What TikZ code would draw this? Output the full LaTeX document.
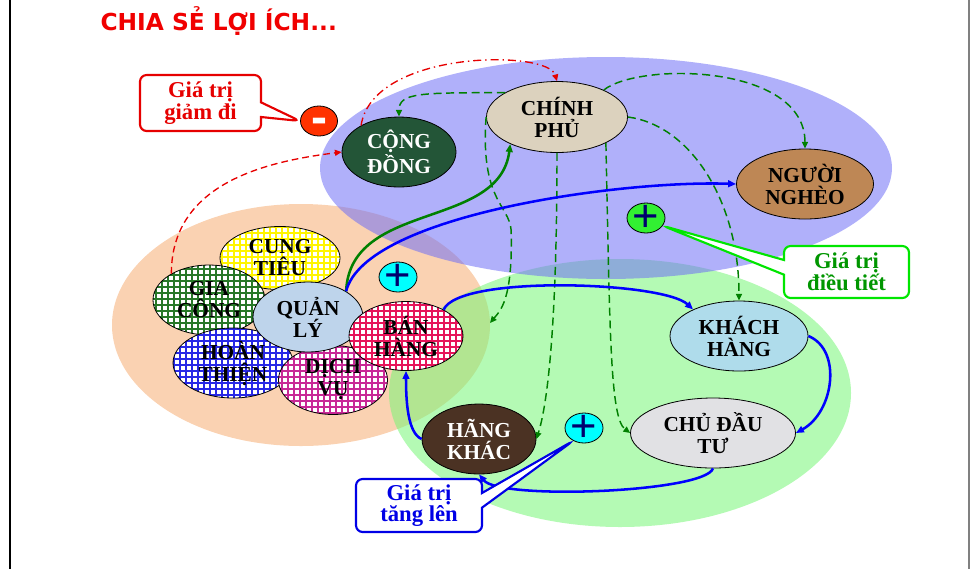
\documentclass[tikz,border=0pt]{standalone}
\usepackage{fontspec}
\setmainfont{Liberation Serif}
\newfontfamily\titlefont{DejaVu Sans}
\newfontfamily\signfont{Liberation Sans}
\usetikzlibrary{shapes.geometric,shapes.callouts,arrows.meta,patterns.meta}

\definecolor{titlered}{RGB}{240,0,0}
\definecolor{peach}{RGB}{250,210,178}
\definecolor{lilac}{RGB}{111,111,246}
\definecolor{mint}{RGB}{119,246,119}
\definecolor{gdark}{RGB}{0,128,0}
\definecolor{bline}{RGB}{0,0,255}
\definecolor{signblue}{RGB}{0,0,110}
\definecolor{noteRed}{RGB}{230,0,0}
\definecolor{noteGreen}{RGB}{0,230,0}
\definecolor{noteGreenTxt}{RGB}{0,150,0}
\definecolor{noteBlue}{RGB}{0,0,230}
% fills of the actors
\definecolor{fretYellow}{RGB}{255,245,0}
\definecolor{fretGreen}{RGB}{40,120,40}
\definecolor{fretBlue}{RGB}{40,40,230}
\definecolor{fretMagenta}{RGB}{200,40,150}
\definecolor{fretRed}{RGB}{230,20,90}
\definecolor{paperBlue}{RGB}{190,212,235}
\definecolor{marbleGreen}{RGB}{35,85,55}
\definecolor{linen}{RGB}{220,210,190}
\definecolor{cork}{RGB}{190,135,85}
\definecolor{dropBlue}{RGB}{175,220,235}
\definecolor{marbleGrey}{RGB}{225,225,228}
\definecolor{soil}{RGB}{75,50,35}
\definecolor{minusRed}{RGB}{255,50,0}
\definecolor{plusGreen}{RGB}{50,240,50}
\definecolor{plusCyan}{RGB}{0,255,255}

\tikzset{every picture/.style={line width=0.75pt}}
\tikzset{
  blob/.style={ellipse, draw=black, line width=0.6pt, inner sep=0pt, align=center,
    minimum width=85.5pt, minimum height=52.5pt, font=\fontsize{16}{16.5}\selectfont\bfseries},
  fret/.style={blob, preaction={fill=white}, pattern={Hatch[distance=4.5pt,line width=0.9pt]}, pattern color=#1},
  sign/.style={ellipse, draw=black, line width=0.6pt, inner sep=0pt, minimum width=28.5pt, minimum height=22.5pt},
  plusmark/.style={font=\signfont\fontsize{34}{34}\selectfont, text=signblue, inner sep=0pt},
  minusmark/.style={font=\signfont\bfseries\fontsize{36}{36}\selectfont, text=white, inner sep=0pt, yshift=-3.4pt},
  gdash/.style={draw=gdark, line width=1.1pt, dash pattern=on 6pt off 3.5pt, -{Triangle[length=5pt,width=4.5pt]}},
  gflow/.style={draw=gdark, line width=1.9pt, -{Triangle[length=6pt,width=5pt]}},
  bflow/.style={draw=bline, line width=1.9pt, -{Triangle[length=6pt,width=5pt]}},
  note/.style={rectangle callout, rounded corners=5pt, fill=white, line width=1.6pt, align=center,
    inner sep=0pt, callout pointer width=11pt, font=\fontsize{17}{15}\selectfont\bfseries}
}

\begin{document}
\begin{tikzpicture}[x=0.75pt,y=0.75pt]
\useasboundingbox (0,0) rectangle (970,-569);

% slide edges
\draw[line width=1.5pt] (10,0) -- (10,-569);
\draw[gray, line width=0.8pt] (969,0) -- (969,-569);

% title
\node[anchor=base west, text=titlered, inner sep=0pt, font=\titlefont\bfseries\fontsize{17.5}{19}\selectfont] (title) at (100,-30) {CHIA SẺ LỢI ÍCH...};

% three zones
\fill[peach] (301,-325) ellipse (189 and 121);
\fill[mint, fill opacity=0.55] (620,-393) ellipse (231 and 134);
\fill[lilac, fill opacity=0.55] (606,-168) ellipse (286 and 111);
\coordinate (grpEdge) at (490,-323);

% firm cluster
\node[fret=fretYellow, minimum width=90pt, minimum height=47.25pt] (cung) at (280,-258) {CUNG\\TIÊU};
\node[fret=fretGreen, minimum width=84pt] (gia) at (209,-300) {GIA\\CÔNG};
\node[fret=fretBlue, minimum width=90pt] (hoan) at (233,-363) {HOÀN\\THIỆN};
\node[fret=fretMagenta, minimum width=81.75pt, minimum height=51.75pt] (dich) at (333,-380) {DỊCH\\VỤ};
\node[blob, fill=paperBlue, minimum width=82.5pt] (quan) at (308,-317) {QUẢN\\LÝ};
\node[fret=fretRed, minimum height=51.75pt] (ban) at (406,-336) {BÁN\\HÀNG};

% other actors
\node[blob, fill=marbleGreen, text=white] (cong) at (399,-152) {CỘNG\\ĐỒNG};
\node[blob, fill=linen, minimum width=105.75pt, minimum height=53.25pt] (chinh) at (557,-117) {CHÍNH\\PHỦ};
\node[blob, fill=cork, minimum width=102.75pt] (ngheo) at (805,-184) {NGƯỜI\\NGHÈO};
\node[blob, fill=dropBlue, minimum width=103.5pt] (khach) at (739,-336) {KHÁCH\\HÀNG};
\node[blob, fill=marbleGrey, minimum width=123.75pt] (chu) at (713,-433) {CHỦ ĐẦU\\TƯ};
\node[blob, fill=soil, text=white] (hang) at (479,-439) {HÃNG\\KHÁC};

% signs
\node[sign, fill=minusRed, minimum width=27.75pt, label={[minusmark]center:-}] (minus) at (319,-121) {};
\node[sign, fill=plusCyan, label={[plusmark]center:+}] (plusA) at (398,-277) {};
\node[sign, fill=plusGreen, label={[plusmark]center:+}] (plusG) at (646,-218) {};
\node[sign, fill=plusCyan, label={[plusmark]center:+}] (plusL) at (584,-428) {};

% value lost
\draw[noteRed, line width=1pt, dash pattern=on 6pt off 3pt on 1pt off 3pt, -{Triangle[length=5pt,width=4.5pt]}] (cong.145) .. controls +(12,76) and +(-9,31.5) .. (chinh.north);
\draw[noteRed, line width=1pt, dash pattern=on 5pt off 3pt, -{Triangle[length=5pt,width=4.5pt]}] (gia.145) .. controls +(0,93) and +(-70,-9) .. (cong.west);

% state flows
\draw[gdash] (chinh.155) .. controls +(-85,0) and +(0,24) .. (cong.north);
\draw[gdash] (chinh.30) .. controls +(35,28) and +(0,85) .. (ngheo.north);
\draw[gdash] (chinh.east) .. controls +(62,-8) and +(0,100) .. (khach.north);
\draw[gdash] (chinh.-28) .. controls +(4,-190) and +(-20,15) .. (chu.west);
\draw[gdash] (chinh.south) .. controls +(0,-200) and +(8,25) .. (hang.east);
\draw[gdash] (chinh.west) .. controls +(-6,-83) and +(-2,25) .. ++(25,-113) .. controls +(2,-70) and +(10,12) .. (grpEdge);
\draw[gflow] (quan.34) .. controls +(4,91) and +(-11,-86) .. (chinh.210);

% market flows
\draw[bflow] (quan.34) .. controls +(19,76) and +(-116,4) .. (ngheo.west);
\draw[bflow] (ban.35) .. controls +(15,35) and +(-30,28) .. (khach.150);
\draw[bflow] (khach.east) .. controls +(34,-14) and +(38,21) .. (chu.east);
\draw[bflow] (chu.south) .. controls +(-8,-24) and +(21,-26) .. (hang.south);
\draw[bflow] (hang.west) .. controls +(-14,6) and +(0,-30) .. (ban.south);

% callouts
\node[note, draw=noteRed, text=noteRed, minimum width=90.75pt, minimum height=42pt, callout absolute pointer={(minus.west)}] (noteMinus) at (200.5,-103) {Giá trị\\giảm đi};
\node[note, draw=noteGreen, text=noteGreenTxt, minimum width=93.75pt, minimum height=39pt, callout absolute pointer={(plusG.-25)}] (noteMid) at (846.5,-272) {Giá trị\\điều tiết};
\node[note, draw=noteBlue, text=noteBlue, minimum width=94.5pt, minimum height=39.75pt, callout absolute pointer={(plusL.230)}] (noteUp) at (419,-505.5) {Giá trị\\tăng lên};

\end{tikzpicture}
\end{document}
